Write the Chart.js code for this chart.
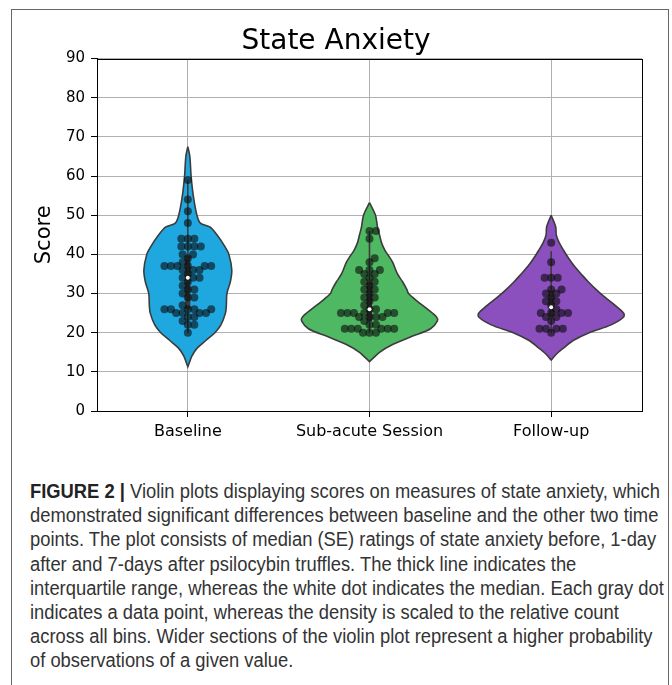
<!DOCTYPE html>
<html>
<head>
<meta charset="utf-8">
<script src="https://cdn.jsdelivr.net/npm/chart.js@4.4.1/dist/chart.umd.min.js"></script>
<style>
  html, body { margin: 0; padding: 0; background: #fff; }
  body { width: 672px; height: 685px; position: relative; overflow: hidden; }
  #frame { position: absolute; left: 11px; top: 9px; width: 656px; height: 720px; border: 1px solid #666; }
  #myChart { position: absolute; left: 0; top: 0; }
  #caption { position: absolute; left: 30px; top: 479px; color: #333;
    font-family: "Liberation Sans", Arial, sans-serif;
    font-size: 20px; line-height: 24.2px; white-space: nowrap; transform-origin: 0 0; }
  #caption b { color: #222; }
</style>
</head>
<body>
<div id="frame"></div>
<canvas id="myChart" width="672" height="470"></canvas>
<div id="caption">
  <div id="capLine1"><b>FIGURE 2 |</b> Violin plots displaying scores on measures of state anxiety, which</div>
  <div>demonstrated significant differences between baseline and the other two time</div>
  <div>points. The plot consists of median (SE) ratings of state anxiety before, 1-day</div>
  <div>after and 7-days after psilocybin truffles. The thick line indicates the</div>
  <div>interquartile range, whereas the white dot indicates the median. Each gray dot</div>
  <div>indicates a data point, whereas the density is scaled to the relative count</div>
  <div>across all bins. Wider sections of the violin plot represent a higher probability</div>
  <div>of observations of a given value.</div>
</div>
<script>
const chartTitle = "State Anxiety";
const categories = ['Baseline', 'Sub-acute Session', 'Follow-up'];
const yTicks = [0, 10, 20, 30, 40, 50, 60, 70, 80, 90];

// individual scores
const baselineScores = [59, 54, 51, 48, 44, 44, 44, 42, 42, 42, 42, 40, 40, 39, 38, 37, 37, 37, 37, 37, 37,
  36, 36, 36, 35, 34, 34, 34, 33, 32, 31, 31, 30, 29, 29, 27, 26, 26, 26, 26, 26, 25, 25, 25, 25, 24, 24, 23, 22, 22, 20];
const subacuteScores = [46, 46, 44, 39, 38, 36, 36, 36, 35, 35, 34, 33, 33, 32, 31, 31, 30, 29, 29, 28, 27, 26, 26,
  25, 25, 25, 25, 25, 25, 24, 24, 24, 24, 23, 22, 22, 21, 21, 21, 21, 21, 21, 20, 20, 20];
const followupScores = [43, 38, 34, 34, 34, 31, 31, 30, 30, 29, 28, 28, 27, 26, 25, 25, 25, 25, 24, 24, 23, 21, 21, 21, 21, 20];

// violin outlines: half width (category units) at score levels
const baselineLevels = [67.5, 65, 60, 55, 50, 48, 47, 45, 42, 40, 36, 33, 30, 27, 25, 22, 20, 18, 16, 14, 11.3];
const baselineWidths = [0, 0.011, 0.018, 0.030, 0.050, 0.069, 0.121, 0.160, 0.204, 0.226, 0.242, 0.234, 0.215, 0.212, 0.207, 0.182, 0.149, 0.099, 0.050, 0.022, 0];
const subacuteLevels = [53.2, 50, 47, 45, 43, 41, 40, 38, 35, 33, 31, 30, 28, 26, 24, 23, 21, 19, 17, 15, 12.6];
const subacuteWidths = [0, 0.033, 0.044, 0.055, 0.066, 0.085, 0.100, 0.127, 0.154, 0.182, 0.206, 0.215, 0.264, 0.319, 0.369, 0.374, 0.336, 0.231, 0.127, 0.055, 0];
const followupLevels = [50, 47, 45, 43, 41, 39, 37, 35, 33, 31, 29, 27, 25, 24, 22, 20, 18, 16, 14.5, 13];
const followupWidths = [0, 0.025, 0.028, 0.044, 0.069, 0.096, 0.127, 0.165, 0.204, 0.248, 0.297, 0.352, 0.399, 0.399, 0.330, 0.209, 0.121, 0.066, 0.028, 0];

const violinColors = ['#1fa8e0', '#4fb862', '#8b4fbe'];
const lineColor = '#3c3c3c';

const groups = [
  {scores: baselineScores, levels: baselineLevels, widths: baselineWidths},
  {scores: subacuteScores, levels: subacuteLevels, widths: subacuteWidths},
  {scores: followupScores, levels: followupLevels, widths: followupWidths}
];

// approx pixels per unit, only used to lay out the swarm
const pxX = 181.7, pxY = 3.91, dotGap = 6.5;

function swarm(values) {
  const placed = [];
  return values.slice().sort((a, b) => a - b).map(v => {
    const y = v * pxY;
    const near = placed.filter(p => Math.abs(p.y - y) < dotGap);
    const cands = [0];
    near.forEach(p => {
      const dx = Math.sqrt(dotGap * dotGap - (p.y - y) * (p.y - y));
      cands.push(p.x + dx, p.x - dx);
    });
    cands.sort((a, b) => Math.abs(a) - Math.abs(b));
    const x = cands.find(c => near.every(p => Math.hypot(p.x - c, p.y - y) >= dotGap - 1e-6));
    placed.push({x, y});
    return {v, dx: x / pxX};
  });
}

function quantile(sorted, q) {
  const pos = (sorted.length - 1) * q, lo = Math.floor(pos), hi = Math.ceil(pos);
  return sorted[lo] + (sorted[hi] - sorted[lo]) * (pos - lo);
}

const datasets = [];
groups.forEach((g, i) => {
  const outline = [];
  g.levels.forEach((lv, k) => outline.push({x: i + g.widths[k], y: lv}));
  for (let k = g.levels.length - 1; k >= 0; k--) outline.push({x: i - g.widths[k], y: g.levels[k]});
  datasets.push({
    data: outline, showLine: true, fill: 'shape', tension: 0.3,
    backgroundColor: violinColors[i], borderColor: lineColor, borderWidth: 1.6,
    pointRadius: 0, order: 5
  });

  const s = g.scores.slice().sort((a, b) => a - b);
  const q1 = quantile(s, 0.25), q3 = quantile(s, 0.75), med = quantile(s, 0.5);
  const iqr = q3 - q1;
  const lo = Math.max(s[0], q1 - 1.5 * iqr), hi = Math.min(s[s.length - 1], q3 + 1.5 * iqr);
  datasets.push({
    data: [{x: i, y: lo}, {x: i, y: hi}], showLine: true, borderColor: lineColor,
    borderWidth: 1.6, pointRadius: 0, order: 4
  });
  datasets.push({
    data: [{x: i, y: q1}, {x: i, y: q3}], showLine: true, borderColor: lineColor,
    borderWidth: 5, pointRadius: 0, order: 3
  });
  datasets.push({
    data: swarm(g.scores).map(p => ({x: i + p.dx, y: p.v})),
    pointRadius: 4, pointBackgroundColor: 'rgba(10,10,10,0.6)', pointBorderWidth: 0, order: 2
  });
  datasets.push({
    data: [{x: i, y: med}], pointRadius: 2, pointBackgroundColor: '#fff',
    pointBorderWidth: 0, order: 1
  });
});

const frameBox = {
  id: 'frameBox',
  afterDraw(chart) {
    const a = chart.chartArea, ctx = chart.ctx;
    ctx.save();
    ctx.strokeStyle = '#000';
    ctx.lineWidth = 1;
    ctx.strokeRect(Math.round(a.left) + 0.5, Math.round(a.top) + 0.5, Math.round(a.right - a.left), Math.round(a.bottom - a.top));
    ctx.restore();
  }
};

const canvas = document.getElementById('myChart');
const myChart = new Chart(canvas, {
  type: 'scatter',
  data: {datasets: datasets},
  plugins: [frameBox],
  options: {
    responsive: false,
    animation: false,
    devicePixelRatio: 1,
    layout: {padding: {left: 30, right: 30, top: 0, bottom: 0}},
    plugins: {
      legend: {display: false},
      tooltip: {enabled: false},
      title: {
        display: true, text: chartTitle, color: '#000',
        font: {family: 'DejaVu Sans', size: 28, weight: 'normal'},
        padding: {top: 25, bottom: 0}
      }
    },
    scales: {
      x: {
        type: 'linear', min: -0.5, max: 2.5, z: 1,
        afterBuildTicks: axis => { axis.ticks = categories.map((c, i) => ({value: i})); },
        afterFit: axis => { axis.height = 59; },
        ticks: {
          callback: v => categories[v], color: '#000', padding: 5,
          font: {family: 'DejaVu Sans', size: 16}, maxRotation: 0
        },
        grid: {color: '#b0b0b0', lineWidth: 1, tickColor: '#000', tickLength: 6},
        border: {color: '#000', width: 1}
      },
      y: {
        min: 0, max: 90, z: 1,
        afterBuildTicks: axis => { axis.ticks = yTicks.map(v => ({value: v})); },
        afterFit: axis => { axis.width = 67; },
        title: {
          display: true, text: 'Score', color: '#000',
          font: {family: 'DejaVu Sans', size: 21}, padding: {top: 2, bottom: 0}
        },
        ticks: {color: '#000', padding: 6, font: {family: 'DejaVu Sans', size: 15}},
        grid: {color: '#b0b0b0', lineWidth: 1, tickColor: '#000', tickLength: 6},
        border: {color: '#000', width: 1}
      }
    }
  }
});

// squeeze the caption to the narrow width of the printed figure
const cap = document.getElementById('caption');
const line1 = document.getElementById('capLine1');
line1.style.display = 'inline-block';
const sx = 630 / line1.getBoundingClientRect().width;
line1.style.display = '';
cap.style.transform = 'scaleX(' + sx + ')';
</script>
</body>
</html>
